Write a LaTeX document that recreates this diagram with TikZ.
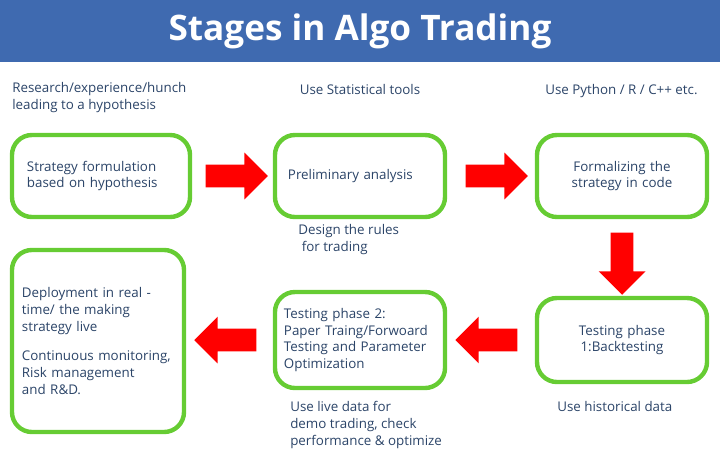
\documentclass[tikz,border=0pt]{standalone}
\usepackage{fontspec}
\setmainfont{Open Sans}
\usetikzlibrary{positioning,shapes.arrows}
\definecolor{titleblue}{HTML}{3F6AB0}
\definecolor{boxgreen}{HTML}{66CC33}
\definecolor{txtblue}{HTML}{2B4468}
\begin{document}
\begin{tikzpicture}[
    x=0.025cm, y=-0.025cm,
    stage/.style={rectangle, draw=boxgreen, line width=1.1mm, rounded corners=0.5cm, fill=white, text=txtblue, font=\fontsize{9.5}{12}\selectfont, align=left, inner sep=4pt},
    note/.style={text=txtblue, font=\fontsize{9.5}{12}\selectfont, align=left, inner sep=0pt},
    bigarrow/.style={single arrow, fill=red, draw=none, minimum height=1.55cm, single arrow head extend=0.3cm, inner xsep=0pt, inner ysep=0.28cm}
]
\useasboundingbox (0,0) rectangle (720,473);
% Titre
\fill[titleblue] (0,0) rectangle (720,62);
\node[text=white, font=\fontsize{25}{30}\selectfont\bfseries] (title) at (360,31) {Stages in Algo Trading};

% Etapes
\node[stage, minimum width=4.45cm, minimum height=2.05cm, text width=3.7cm] (formulation) at (101,176) {Strategy formulation\\based on hypothesis};
\node[stage, minimum width=4.25cm, minimum height=2.05cm, text width=3.6cm] (prelim) at (360,176) {Preliminary analysis};
\node[stage, minimum width=4.25cm, minimum height=2.05cm, text width=3.2cm, align=center] (code) at (622,176) {Formalizing the\\strategy in code};
\node[stage, minimum width=4.25cm, minimum height=2.1cm, text width=3.2cm, align=center] (backtest) at (622,340) {Testing phase\\1:Backtesting};
\node[stage, minimum width=4.25cm, minimum height=2.4cm, text width=3.8cm] (paper) at (360,340) {Testing phase 2:\\Paper Traing/Forwoard\\Testing and Parameter\\Optimization};
\node[stage, minimum width=4.3cm, minimum height=4.55cm, text width=3.8cm] (deploy) at (98,341) {Deployment in real -\\time/ the making\\strategy live\\[9pt]Continuous monitoring,\\Risk management\\and R\&D.};

% Notes
\node[note, anchor=north west] (n1) at (12,82) {Research/experience/hunch\\leading to a hypothesis};
\node[note, anchor=north] (n2) at (360,84) {Use Statistical tools};
\node[note, anchor=north west] (n3) at (545,84) {Use Python / R / C++ etc.};
\node[note, anchor=north west] (n4) at (298,224) {Design the rules\\\ for trading};
\node[note, anchor=north west] (n5) at (557,401) {Use historical data};
\node[note, anchor=north west] (n6) at (290,401) {Use live data for\\demo trading, check\\performance \& optimize};

% Fleches
\node[bigarrow] (a1) at (231,176) {};
\node[bigarrow] (a2) at (491,176) {};
\node[bigarrow, rotate=-90] (a3) at (622,258) {};
\node[bigarrow, rotate=180] (a4) at (492,340) {};
\node[bigarrow, rotate=180] (a5) at (231,340) {};
\end{tikzpicture}
\end{document}
